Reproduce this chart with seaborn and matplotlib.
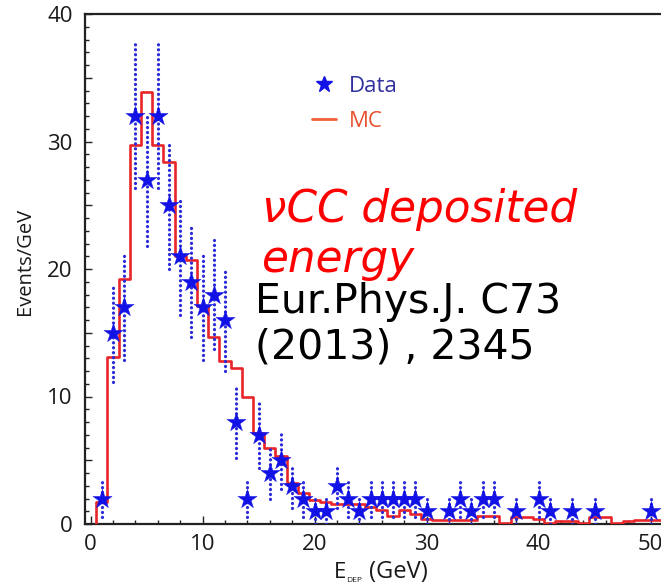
import numpy as np
import pandas as pd
import matplotlib
matplotlib.use("Agg")
import matplotlib.pyplot as plt
import seaborn as sns
from matplotlib.ticker import MultipleLocator, FuncFormatter
from matplotlib.lines import Line2D

# Measured events per GeV (data) at each deposited-energy value
data_energy = [1, 2, 3, 4, 5, 6, 7, 8, 9, 10, 11, 12, 13, 14, 15, 16, 17, 18, 19, 20,
               21, 22, 23, 24, 25, 26, 27, 28, 29, 30, 32, 33, 34, 35, 36, 38, 40, 41,
               43, 45, 50]
data_events = [2, 15, 17, 32, 27, 32, 25, 21, 19, 17, 18, 16, 8, 2, 7, 4, 5, 3, 2, 1,
               1, 3, 2, 1, 2, 2, 2, 2, 2, 1, 1, 2, 1, 2, 2, 1, 2, 1,
               1, 1, 1]

# Monte Carlo expectation, 1 GeV bins centred on 1..52 GeV
mc_bin_centres = list(range(1, 53))
mc_events = [1.7, 13.1, 19.2, 29.7, 33.9, 29.7, 28.4, 21.0, 20.7, 17.1,
             14.7, 12.8, 12.2, 10.0, 7.1, 6.0, 5.3, 3.2, 2.4, 1.9,
             1.7, 1.6, 1.6, 1.6, 1.3, 1.1, 0.6, 1.1, 0.8, 0.4,
             0.3, 0.3, 0.3, 0.3, 0.6, 0.6, 0.1, 0.55, 0.55, 0.4,
             0.1, 0.25, 0.25, 0.1, 0.55, 0.55, 0.05, 0.2, 0.3, 0.35,
             0.3, 0.3]

x_ticks = [0, 10, 20, 30, 40, 50]
y_ticks = [0, 10, 20, 30, 40]

W, H = 661, 583


def px(x, y):
    """Pixel position (from top-left) to figure fraction."""
    return x / W, 1 - y / H


sns.set_theme(style="white")
plt.rcParams["font.family"] = ["Open Sans", "DejaVu Sans"]

fig = plt.figure(figsize=(W / 100, H / 100), dpi=100)
ax = fig.add_axes([85 / W, (H - 524) / H, 588 / W, 510 / H])

# MC histogram as a step line starting from the baseline at the first bin edge
edges = [c - 0.5 for c in mc_bin_centres]
mc_df = pd.DataFrame({"edge": [edges[0]] + edges, "events": [0.0] + mc_events})
sns.lineplot(data=mc_df, x="edge", y="events", estimator=None, sort=False,
             drawstyle="steps-post", color="#e8262a", linewidth=1.9,
             ax=ax, zorder=3, legend=False)

# Statistical errors (sqrt N) as dotted vertical bars
ev = np.array(data_events, dtype=float)
err = np.sqrt(ev)
bars = ax.vlines(data_energy, ev - err, ev + err, colors="#2a2ad8",
                 linewidth=2.3, zorder=4)
bars.set_linestyle((0, (0.05, 1.5)))
bars.set_capstyle("round")

data_df = pd.DataFrame({"energy": data_energy, "events": data_events})
sns.scatterplot(data=data_df, x="energy", y="events", marker="*", s=210,
                color="#1212e6", edgecolor="#1212e6", linewidth=0.3,
                ax=ax, zorder=5, legend=False)

ax.set_xlim(-0.5, 52)
ax.set_ylim(0, 40)

for side in ["left", "bottom", "top", "right"]:
    ax.spines[side].set_linewidth(1.6)
    ax.spines[side].set_color("#222222")

ax.xaxis.set_major_locator(MultipleLocator(10))
ax.xaxis.set_minor_locator(MultipleLocator(2))
ax.yaxis.set_major_locator(MultipleLocator(5))
ax.yaxis.set_minor_locator(MultipleLocator(1))
ax.yaxis.set_major_formatter(FuncFormatter(
    lambda v, p: f"{int(v)}" if int(round(v)) in y_ticks and abs(v - round(v)) < 1e-6 else ""))
ax.xaxis.set_major_formatter(FuncFormatter(
    lambda v, p: f"{int(v)}" if int(round(v)) in x_ticks else ""))

ax.tick_params(axis="both", which="both", direction="in", top=False, right=False,
               left=True, bottom=True, color="#222222", width=1.0,
               labelsize=16, labelcolor="#1a1a1a")
ax.tick_params(axis="x", which="major", length=6, pad=7)
ax.tick_params(axis="x", which="minor", length=3)
ax.tick_params(axis="y", which="major", length=5, pad=9)
ax.tick_params(axis="y", which="minor", length=3)

ax.set_xlabel("")
ax.set_ylabel("Events/GeV", fontsize=14.5, color="#1a1a1a")
ax.yaxis.set_label_coords(-0.085, 0.514)

# x-axis title with a small subscript
fig.text(*px(334, 578), "E", fontsize=16, color="#1a1a1a", va="baseline", ha="left")
fig.text(*px(346, 582), "DEP", fontsize=6, color="#1a1a1a", va="baseline", ha="left")
fig.text(*px(369, 578), "(GeV)", fontsize=17, color="#1a1a1a", va="baseline", ha="left")

# Legend
handles = [
    Line2D([], [], marker="*", color="#1212e6", linestyle="none", markersize=12),
    Line2D([], [], color="#f0603a", linewidth=2.0),
]
fig.legend(handles, ["Data", "MC"], loc="upper left",
           bbox_to_anchor=px(303, 67), frameon=False, fontsize=16,
           labelcolor=["#30309e", "#e8502e"], handlelength=1.1,
           handletextpad=0.55, labelspacing=0.62, borderaxespad=0)

# Annotations
fig.text(*px(262, 222), "\u03bdCC deposited", fontsize=31.5, color="#ff0000",
         style="italic", family="DejaVu Sans", va="baseline", ha="left")
fig.text(*px(262, 272), "energy", fontsize=31.5, color="#ff0000",
         style="italic", family="DejaVu Sans", va="baseline", ha="left")
fig.text(*px(255, 313), "Eur.Phys.J. C73", fontsize=29.5, color="#000000",
         family="DejaVu Sans", va="baseline", ha="left")
fig.text(*px(255, 358), "(2013) , 2345", fontsize=29.5, color="#000000",
         family="DejaVu Sans", va="baseline", ha="left")

fig.savefig("out.png", dpi=100)
